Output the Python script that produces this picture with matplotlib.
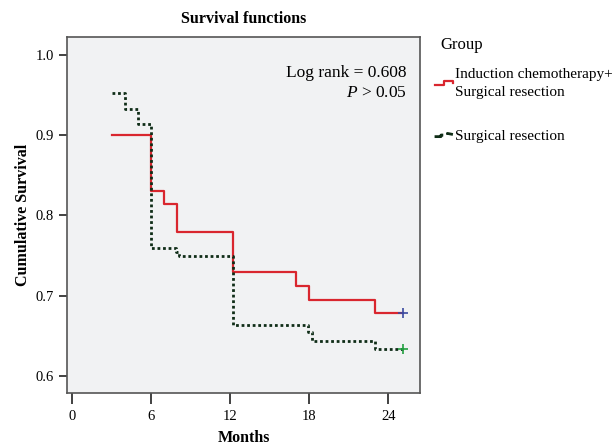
import matplotlib
matplotlib.use("Agg")
import matplotlib.pyplot as plt
from matplotlib.lines import Line2D
from matplotlib.legend_handler import HandlerBase

# ---- data ----
red_times = [3, 6, 7, 8, 12.2, 17, 18, 23, 25.1]
red_surv = [0.900, 0.830, 0.814, 0.779, 0.729, 0.712, 0.695, 0.678, 0.678]
green_times = [3, 4, 5, 6, 7.9, 8.1, 12.2, 17.9, 18.2, 23, 25.1]
green_surv = [0.952, 0.932, 0.914, 0.759, 0.754, 0.750, 0.663, 0.655, 0.644, 0.634, 0.634]
group_labels = ["Induction chemotherapy+\nSurgical resection", "Surgical resection"]
x_ticks = [0, 6, 12, 18, 24]
y_ticks = [0.6, 0.7, 0.8, 0.9, 1.0]

RED = "#d9262e"
GREEN = "#0f2d17"
plt.rcParams["font.family"] = ["Liberation Serif", "DejaVu Serif"]
plt.rcParams["mathtext.fontset"] = "custom"
plt.rcParams["mathtext.rm"] = "Liberation Serif"
plt.rcParams["mathtext.it"] = "Liberation Serif:italic"

fig = plt.figure(figsize=(6.15, 4.46), dpi=100)
ax = fig.add_axes([0.109, 0.119, 0.574, 0.798])
ax.set_facecolor("#f1f2f3")

l1, = ax.step(red_times, red_surv, where="post", color=RED, lw=1.6)
l2, = ax.step(green_times, green_surv, where="post", color=GREEN, lw=2.0,
              linestyle=(0, (1, 1)))
ax.plot([red_times[-1]], [red_surv[-1]], marker="+", color="#3b4aa0", ms=7, mew=1.2)
ax.plot([green_times[-1]], [green_surv[-1]], marker="+", color="#22a040", ms=7, mew=1.2)

ax.set_xlim(-0.38, 26.4)
ax.set_ylim(0.579, 1.022)
ax.set_xticks(x_ticks)
ax.set_yticks(y_ticks)
ax.set_yticklabels([f"{v:.1f}" for v in y_ticks])
ax.tick_params(axis="both", direction="out", labelsize=10.5, color="#333333", width=1.3)
ax.tick_params(axis="x", length=8, pad=4)
ax.tick_params(axis="y", length=6)
for s in ax.spines.values():
    s.set_color("#555555")
    s.set_linewidth(1.2)

ax.set_title("Survival functions", fontsize=11.5, fontweight="bold", pad=10)
ax.set_xlabel("Months", fontsize=11.5, fontweight="bold", labelpad=5)
ax.set_ylabel("Cumulative Survival", fontsize=11.5, fontweight="bold", labelpad=3)

ax.text(0.962, 0.898, "Log rank = 0.608", transform=ax.transAxes, ha="right",
        va="center", fontsize=12.5)
ax.text(0.962, 0.842, r"$\it{P}$ > 0.05", transform=ax.transAxes, ha="right",
        va="center", fontsize=12.5)


class StepHandler(HandlerBase):
    def create_artists(self, legend, orig_handle, xdescent, ydescent, width,
                       height, fontsize, trans):
        w, h = width, height
        x0, y0 = -xdescent, -ydescent
        if orig_handle is l1:
            xs = [x0, x0 + 0.5 * w, x0 + 0.5 * w, x0 + w, x0 + w]
            ys = [y0 + 0.3 * h, y0 + 0.3 * h, y0 + 0.7 * h, y0 + 0.7 * h, y0 + 0.5 * h]
        else:
            xs = [x0, x0 + 0.35 * w, x0 + 0.35 * w, x0 + 0.7 * w, x0 + 0.7 * w, x0 + w]
            ys = [y0 + 0.3 * h, y0 + 0.3 * h, y0 + 0.45 * h, y0 + 0.45 * h, y0 + 0.6 * h, y0 + 0.5 * h]
        ln = Line2D(xs, ys, color=orig_handle.get_color(), lw=orig_handle.get_linewidth(),
                    linestyle=orig_handle.get_linestyle(), transform=trans)
        return [ln]


fig.text(440 / 615, 1 - 45 / 446, "Group", ha="left", va="center", fontsize=12)
leg = fig.legend([l1, l2], group_labels, loc="upper left",
                 bbox_to_anchor=(430 / 615, 1 - 63 / 446), frameon=False, fontsize=11,
                 handlelength=1.2, handletextpad=0.15, borderaxespad=0, borderpad=0.3,
                 labelspacing=2.0,
                 handler_map={l1: StepHandler(), l2: StepHandler()})
for t in leg.get_texts():
    t.set_linespacing(1.5)

fig.savefig("out.png", dpi=100)
